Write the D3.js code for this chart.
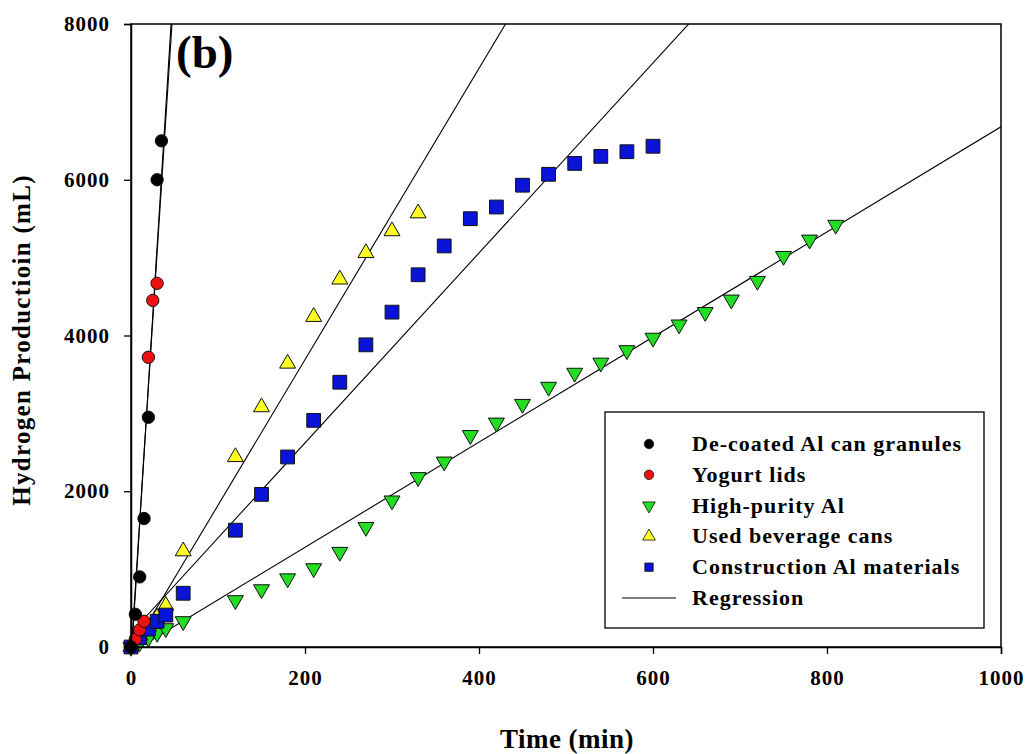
<!DOCTYPE html>
<html>
<head>
<meta charset="utf-8">
<script src="https://cdn.jsdelivr.net/npm/d3@7"></script>
<style>
  body { margin: 0; background: #fff; }
  text { font-family: "Liberation Serif", "Times New Roman", serif; font-weight: bold; }
</style>
</head>
<body>
<script>
// time (min) / hydrogen (mL)
var decoated = [[0,0],[5,420],[10,900],[15,1650],[20,2950],[30,6000],[35,6500]];
var yogurt   = [[0,0],[5,100],[10,220],[15,330],[20,3720],[25,4450],[30,4670]];
var highPurity = [[0,0],[10,60],[20,120],[30,180],[40,240],[60,330],[120,600],[150,740],[180,880],
  [210,1010],[240,1220],[270,1540],[300,1880],[330,2180],[360,2380],[390,2720],[420,2880],
  [450,3120],[480,3340],[510,3520],[540,3650],[570,3810],[600,3970],[630,4140],[660,4300],
  [690,4460],[720,4700],[750,5020],[780,5230],[810,5420]];
var beverage = [[0,0],[10,150],[20,260],[30,380],[40,530],[60,1230],[120,2440],[150,3080],
  [180,3640],[210,4240],[240,4720],[270,5060],[300,5340],[330,5570]];
var construction = [[0,0],[10,120],[20,230],[30,330],[40,410],[60,690],[120,1500],[150,1960],
  [180,2440],[210,2910],[240,3400],[270,3880],[300,4300],[330,4780],[360,5150],[390,5500],
  [420,5650],[450,5930],[480,6070],[510,6210],[540,6300],[570,6360],[600,6430]];

// regression lines: [intercept, slope]
var regressions = [[-200,178],[-100,172],[-70,6.75],[-50,18.7],[180,12.2]];

var legendLabels = ["De-coated Al can granules","Yogurt lids","High-purity Al",
  "Used beverage cans","Construction Al materials","Regression"];
var xTicks = [0,200,400,600,800,1000];
var yTicks = [0,2000,4000,6000,8000];

var W = 1031, H = 754;
var svg = d3.select("body").append("svg").attr("width", W).attr("height", H);

var x = d3.scaleLinear().domain([0,1000]).range([131,1001]);
var y = d3.scaleLinear().domain([0,8000]).range([647,24]);

svg.append("clipPath").attr("id","clip").append("rect")
  .attr("x",131).attr("y",24).attr("width",870).attr("height",623);

// regression lines
var plot = svg.append("g").attr("clip-path","url(#clip)");
regressions.forEach(function(r){
  plot.append("line")
    .attr("x1", x(0)).attr("y1", y(r[0]))
    .attr("x2", x(1000)).attr("y2", y(r[0] + r[1]*1000))
    .attr("stroke","#000").attr("stroke-width",1.1);
});

function drawSeries(data, shape, size, fill, rot) {
  svg.append("g").selectAll("path").data(data).enter().append("path")
    .attr("d", d3.symbol().type(shape).size(size))
    .attr("transform", function(d){ return "translate(" + x(d[0]) + "," + y(d[1]) + ")" + (rot ? " rotate(180)" : ""); })
    .attr("fill", fill).attr("stroke","#111").attr("stroke-width",1);
}
drawSeries(highPurity, d3.symbolTriangle, 110, "#22dd22", true);
drawSeries(beverage, d3.symbolTriangle, 110, "#ffff22", false);
drawSeries(construction, d3.symbolSquare, 190, "#0a14d8", false);
drawSeries(yogurt, d3.symbolCircle, 120, "#ee1111", false);
drawSeries(decoated, d3.symbolCircle, 120, "#000000", false);

// frame
svg.append("rect").attr("x",131).attr("y",24).attr("width",870).attr("height",623)
  .attr("fill","none").attr("stroke","#000").attr("stroke-width",1.5);

var xAxis = svg.append("g").attr("transform","translate(0,647)")
  .call(d3.axisBottom(x).tickValues(xTicks).tickSize(7).tickPadding(16).tickFormat(d3.format("d")));
var yAxis = svg.append("g").attr("transform","translate(131,0)")
  .call(d3.axisLeft(y).tickValues(yTicks).tickSize(7).tickPadding(14).tickFormat(d3.format("d")));
[xAxis, yAxis].forEach(function(a){
  a.select(".domain").attr("stroke-width",1.5);
  a.selectAll(".tick line").attr("stroke-width",1.3);
  a.selectAll("text").attr("fill","#000")
    .style("font-size","21px").style("letter-spacing","1px");
});

svg.append("text").attr("x",567).attr("y",748).attr("text-anchor","middle")
  .attr("font-size",27).style("letter-spacing","0.5px").text("Time (min)");
svg.append("text").attr("transform","translate(30,340) rotate(-90)").attr("text-anchor","middle")
  .attr("font-size",25).style("letter-spacing","1.3px").text("Hydrogen Productioin (mL)");
svg.append("text").attr("x",176).attr("y",68).attr("font-size",47).text("(b)");

// legend
var lg = svg.append("g");
lg.append("rect").attr("x",605).attr("y",412).attr("width",379).attr("height",216)
  .attr("fill","#fff").attr("stroke","#000").attr("stroke-width",1.3);
var legendShapes = [
  {type:d3.symbolCircle, fill:"#000", rot:false},
  {type:d3.symbolCircle, fill:"#ee1111", rot:false},
  {type:d3.symbolTriangle, fill:"#22dd22", rot:true},
  {type:d3.symbolTriangle, fill:"#ffff22", rot:false},
  {type:d3.symbolSquare, fill:"#0a14d8", rot:false},
  null
];
legendLabels.forEach(function(label, i){
  var cy = 444 + i*30.8;
  var s = legendShapes[i];
  if (s) {
    lg.append("path").attr("d", d3.symbol().type(s.type).size(70))
      .attr("transform","translate(649," + cy + ")" + (s.rot ? " rotate(180)" : ""))
      .attr("fill", s.fill).attr("stroke","#111").attr("stroke-width",0.8);
  } else {
    lg.append("line").attr("x1",622).attr("x2",676).attr("y1",cy).attr("y2",cy)
      .attr("stroke","#000").attr("stroke-width",1.2);
  }
  lg.append("text").attr("x",692).attr("y",cy+7).attr("font-size",22)
    .style("letter-spacing","1px").text(label);
});
</script>
</body>
</html>
